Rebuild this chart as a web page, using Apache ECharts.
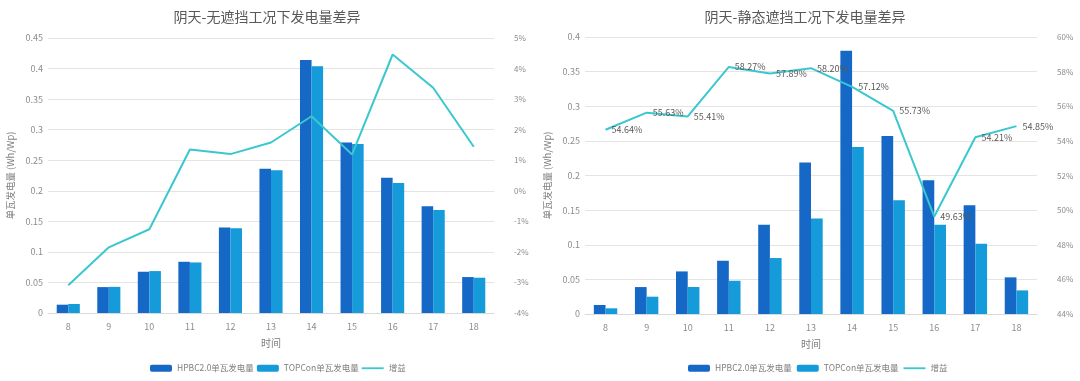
<!DOCTYPE html>
<html><head><meta charset="utf-8">
<script src="https://cdn.jsdelivr.net/npm/echarts@6/dist/echarts.min.js"></script>
<style>html,body{margin:0;padding:0;background:#fff}#c{width:1080px;height:381px}</style>
</head><body><div id="c"></div>
<script>
const categories = ['8','9','10','11','12','13','14','15','16','17','18'];
// Chart 1: 阴天-无遮挡
const hpbcA = [0.0136,0.0424,0.0675,0.0838,0.1398,0.2362,0.4141,0.2791,0.2215,0.1747,0.0588];
const topconA = [0.0147,0.0428,0.0686,0.0827,0.1387,0.2334,0.4037,0.2764,0.2128,0.1687,0.0577];
const gainA = [-3.09,-1.85,-1.26,1.35,1.20,1.58,2.44,1.19,4.46,3.37,1.44];
// Chart 2: 阴天-静态遮挡
const hpbcB = [0.0130,0.0389,0.0615,0.0769,0.1288,0.2188,0.3803,0.2572,0.1933,0.1570,0.0529];
const topconB = [0.0082,0.0250,0.0390,0.0480,0.0808,0.1380,0.2413,0.1644,0.1288,0.1014,0.0341];
const gainB = [54.64,55.63,55.41,58.27,57.89,58.20,57.12,55.73,49.63,54.21,54.85];

const C1 = '#1668C6', C2 = '#169BDA', C3 = '#3AC7CF';
const txt = '#8c8c8c';
const font = 'Noto Sans CJK SC';
const lineIcon = 'path://M0,0 L24,0 L24,2 L0,2 Z';

function xAx(gi){
  return {type:'category', gridIndex:gi, data:categories, name:'时间', nameLocation:'middle', nameGap:25,
    nameTextStyle:{color:'#7f7f7f', fontSize:10, fontFamily:font},
    axisLine:{lineStyle:{color:'#d9d9d9'}}, axisTick:{show:false},
    axisLabel:{color:txt, fontSize:9, margin:9}};
}
function yLeft(gi,max){
  return {type:'value', gridIndex:gi, min:0, max:max, interval:0.05,
    name:'单瓦发电量 (Wh/Wp)', nameLocation:'middle', nameGap:33,
    nameTextStyle:{color:'#7f7f7f', fontSize:9.5, fontFamily:font},
    axisLine:{show:false}, axisTick:{show:false},
    axisLabel:{color:txt, fontSize:9, margin:5, formatter:v=>String(Math.round(v*100)/100)},
    splitLine:{lineStyle:{color:'#e4e4e4'}}};
}
function yRight(gi,min,max,iv){
  return {type:'value', gridIndex:gi, position:'right', min:min, max:max, interval:iv,
    axisLine:{show:false}, axisTick:{show:false},
    axisLabel:{color:txt, fontSize:8, margin:20, formatter:'{value}%'},
    splitLine:{show:false}};
}
const legendText = {color:'#7f7f7f', fontSize:8.5, fontFamily:font};
const chart = echarts.init(document.getElementById('c'));
chart.setOption({
  animation:false,
  textStyle:{fontFamily:font},
  title:[
    {text:'阴天-无遮挡工况下发电量差异', left:262, top:5, textAlign:'center', textStyle:{color:'#595959', fontSize:14, fontWeight:'normal', fontFamily:font}},
    {text:'阴天-静态遮挡工况下发电量差异', left:800, top:5, textAlign:'center', textStyle:{color:'#595959', fontSize:14, fontWeight:'normal', fontFamily:font}}
  ],
  legend:[
    {left:145, top:359, itemWidth:22, itemHeight:7, itemGap:3, textStyle:legendText,
     data:[{name:'HPBC2.0单瓦发电量'},{name:'TOPCon单瓦发电量'},{name:'增益', icon:lineIcon}]},
    {left:683, top:359, itemWidth:22, itemHeight:7, itemGap:3, textStyle:legendText,
     data:[{name:'HPBC2.0单瓦发电量 '},{name:'TOPCon单瓦发电量 '},{name:'增益 ', icon:lineIcon}]}
  ],
  grid:[
    {left:48, width:446, top:38, bottom:68},
    {left:585, width:452, top:37, bottom:67}
  ],
  xAxis:[xAx(0), xAx(1)],
  yAxis:[yLeft(0,0.45), yRight(0,-4,5,1), yLeft(1,0.4), yRight(1,44,60,2)],
  series:[
    {name:'HPBC2.0单瓦发电量', type:'bar', xAxisIndex:0, yAxisIndex:0, data:hpbcA, itemStyle:{color:C1}, barGap:'0%', barCategoryGap:'43%'},
    {name:'TOPCon单瓦发电量', type:'bar', xAxisIndex:0, yAxisIndex:0, data:topconA, itemStyle:{color:C2}},
    {name:'增益', type:'line', xAxisIndex:0, yAxisIndex:1, data:gainA, showSymbol:false, symbol:'none', lineStyle:{color:C3, width:2}, itemStyle:{color:C3}},
    {name:'HPBC2.0单瓦发电量 ', type:'bar', xAxisIndex:1, yAxisIndex:2, data:hpbcB, itemStyle:{color:C1}, barGap:'0%', barCategoryGap:'43%'},
    {name:'TOPCon单瓦发电量 ', type:'bar', xAxisIndex:1, yAxisIndex:2, data:topconB, itemStyle:{color:C2}},
    {name:'增益 ', type:'line', xAxisIndex:1, yAxisIndex:3, data:gainB, symbol:'circle', symbolSize:0.1, showSymbol:true, lineStyle:{color:C3, width:2}, itemStyle:{color:C3},
     label:{show:true, position:'right', distance:6, color:'#595959', fontSize:9, formatter:p=>p.value.toFixed(2)+'%'}}
  ]
});
</script></body></html>
